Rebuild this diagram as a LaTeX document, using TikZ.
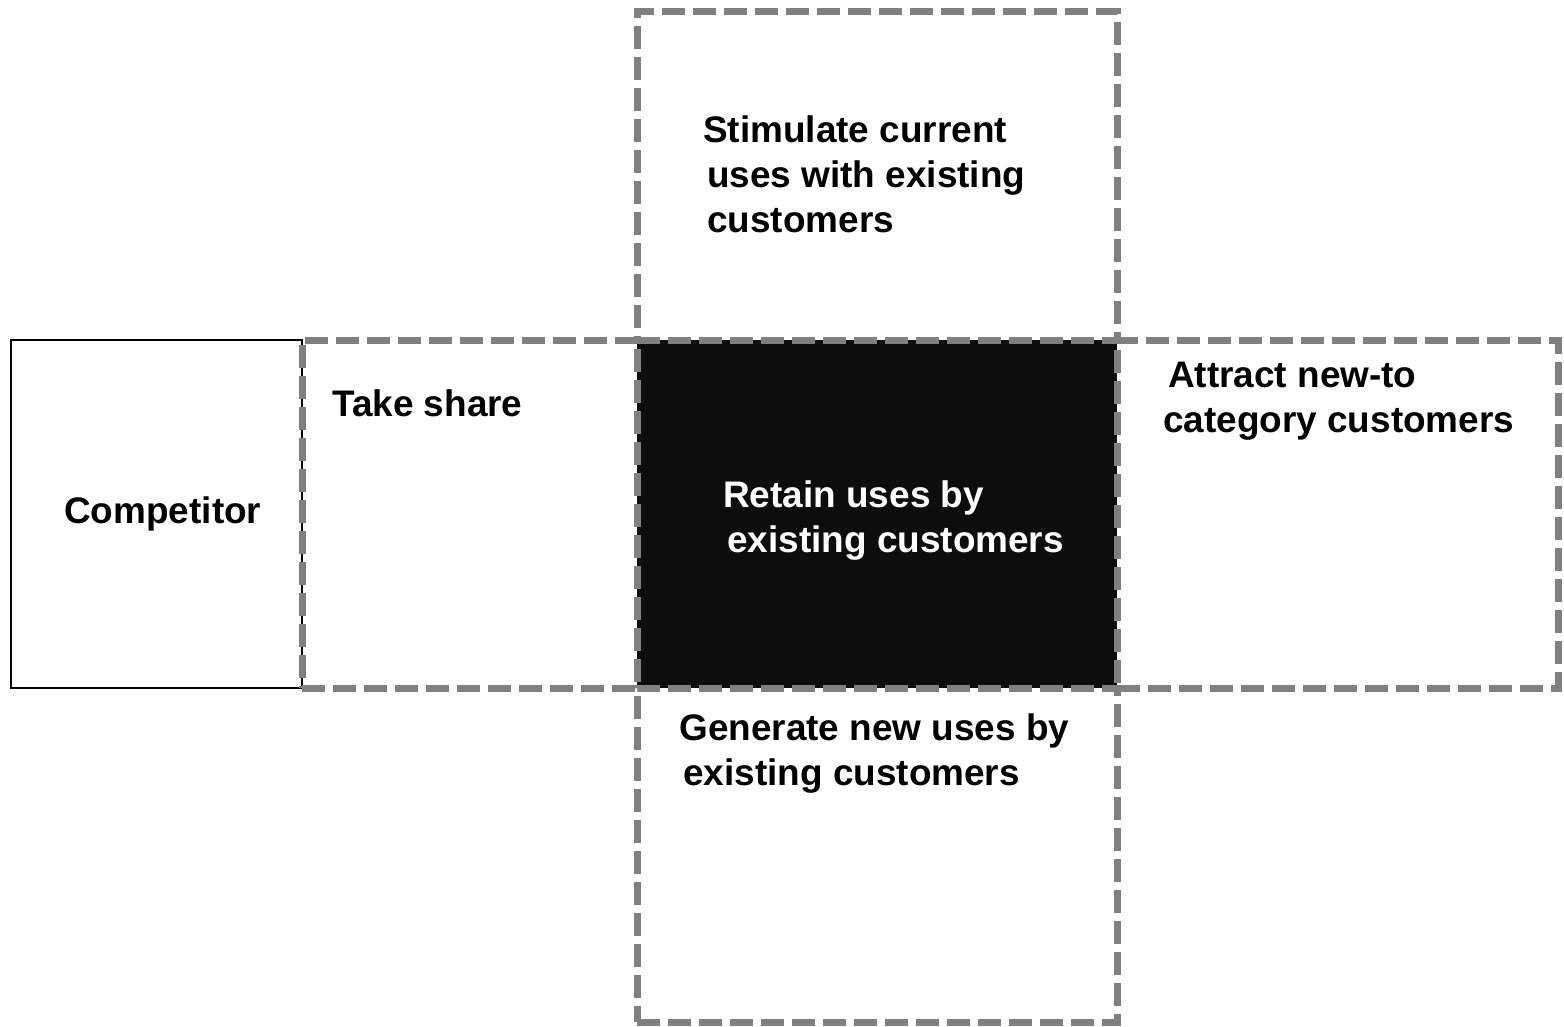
\documentclass[tikz,border=0pt]{standalone}
\usepackage{fontspec}
\setmainfont{Liberation Sans}
\usetikzlibrary{fit}
\definecolor{dashgray}{RGB}{128,128,128}
\definecolor{coreblack}{RGB}{13,13,13}
\begin{document}
\begin{tikzpicture}[x=0.75pt,y=-0.75pt,
  dashbox/.style={draw=dashgray, line width=5.25pt, dash pattern=on 17.25pt off 6pt, inner sep=0pt, fill=none},
  solidbox/.style={draw=black, line width=1.5pt, inner sep=0pt},
  corebox/.style={fill=coreblack, draw=none, inner sep=0pt},
  lbl/.style={font=\fontsize{27.7}{33.75}\selectfont\bfseries, align=left, anchor=base west, inner sep=0pt},
]
\useasboundingbox (0,0) rectangle (1564,1027);
% boxes
\node (comp) [solidbox, fit={(11,340) (302,688)}] {};
\node (core) [corebox, fit={(637,340) (1117,688)}] {};
\node (top) [dashbox, fit={(637,12) (1117,340)}] {};
\node (bottom) [dashbox, fit={(637,688) (1117,1022)}] {};
\node (left) [dashbox, fit={(302,340) (637,688)}] {};
\node (right) [dashbox, fit={(1117,340) (1558,688)}] {};
% labels (anchor at baseline of last line)
\node (tstim) [lbl] at (703,233) {Stimulate current\\\hspace*{3pt}uses with existing\\\hspace*{3pt}customers};
\node (tshare) [lbl] at (332,416) {Take share};
\node (tcomp) [lbl] at (64,523) {Competitor};
\node (tret) [lbl, text=white] at (723,552) {Retain uses by\\\hspace*{3pt}existing customers};
\node (tattr) [lbl] at (1168,432) {Attract new-to\\\hspace*{-3.75pt}category customers};
\node (tgen) [lbl] at (679,785) {Generate new uses by\\\hspace*{3pt}existing customers};
\end{tikzpicture}
\end{document}
